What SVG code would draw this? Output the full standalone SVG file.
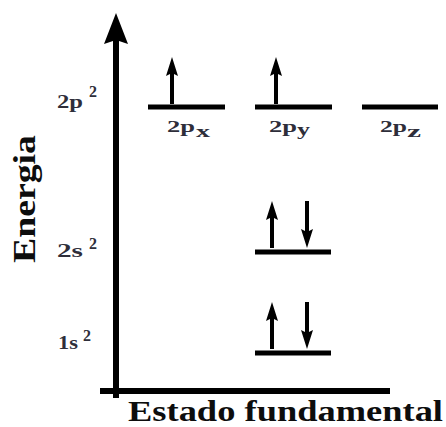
<svg xmlns="http://www.w3.org/2000/svg" xmlns:xlink="http://www.w3.org/1999/xlink" width="446" height="427" viewBox="0 0 446 427">
<style>
.lvl{stroke:#000;stroke-width:5;fill:none}
.ax{stroke:#000;stroke-width:6;fill:none}
.big{font-family:'Times New Roman',Tinos,'Liberation Serif','Nimbus Roman','DejaVu Serif',serif;font-weight:bold;fill:#0d0d0d}
.lab{font-family:'Times New Roman',Tinos,'Liberation Serif','Nimbus Roman','DejaVu Serif',serif;font-weight:bold;fill:#2e2e3a}
</style>
<defs>
<polygon id="up" points="0,0 6,19 2,17 2,47 -2,47 -2,17 -6,19" fill="#000"/>
<polygon id="down" points="0,0 6,-19 2,-17 2,-47 -2,-47 -2,-17 -6,-19" fill="#000"/>
</defs>
<rect width="446" height="427" fill="#fff"/>
<g id="connectors">
<line class="ax" x1="116" y1="40" x2="116" y2="398"/>
<polygon points="116,13 128,44 116,40 104,44" fill="#000"/>
<line class="ax" x1="100" y1="391" x2="390" y2="391"/>
</g>
<g id="axis-labels">
<text class="big" font-size="32" transform="translate(35,263) rotate(-90)" textLength="128" lengthAdjust="spacingAndGlyphs">Energia</text>
<text class="big" x="128" y="421" font-size="30" textLength="315" lengthAdjust="spacingAndGlyphs">Estado fundamental</text>
</g>
<g id="label-2p">
<text class="lab" x="57" y="108" font-size="18" textLength="26" lengthAdjust="spacingAndGlyphs">2p</text>
<text class="lab" x="89" y="97" font-size="16">2</text>
</g>
<g id="label-2s">
<text class="lab" x="57" y="257" font-size="18" textLength="26" lengthAdjust="spacingAndGlyphs">2s</text>
<text class="lab" x="89" y="249" font-size="16">2</text>
</g>
<g id="label-1s">
<text class="lab" x="58" y="349" font-size="18" textLength="20" lengthAdjust="spacingAndGlyphs">1s</text>
<text class="lab" x="83" y="341" font-size="16">2</text>
</g>
<g id="level-2px">
<line class="lvl" x1="148" y1="107" x2="225" y2="107"/>
<use xlink:href="#up" x="172" y="57"/>
<text class="lab" x="167" y="132" font-size="16" textLength="28" lengthAdjust="spacingAndGlyphs">2p</text>
<text class="lab" x="196" y="137" font-size="16" textLength="14" lengthAdjust="spacingAndGlyphs">x</text>
</g>
<g id="level-2py">
<line class="lvl" x1="255" y1="107" x2="332" y2="107"/>
<use xlink:href="#up" x="276" y="57"/>
<text class="lab" x="269" y="132" font-size="16" textLength="28" lengthAdjust="spacingAndGlyphs">2p</text>
<text class="lab" x="297" y="135" font-size="16" textLength="13" lengthAdjust="spacingAndGlyphs">y</text>
</g>
<g id="level-2pz">
<line class="lvl" x1="362" y1="107" x2="438" y2="107"/>
<text class="lab" x="380" y="132" font-size="16" textLength="27" lengthAdjust="spacingAndGlyphs">2p</text>
<text class="lab" x="407" y="137" font-size="16" textLength="14" lengthAdjust="spacingAndGlyphs">z</text>
</g>
<g id="level-2s">
<line class="lvl" x1="255" y1="252" x2="331" y2="252"/>
<use xlink:href="#up" x="272" y="201"/>
<use xlink:href="#down" x="307" y="248"/>
</g>
<g id="level-1s">
<line class="lvl" x1="255" y1="353" x2="331" y2="353"/>
<use xlink:href="#up" x="272" y="302"/>
<use xlink:href="#down" x="307" y="349"/>
</g>
</svg>
